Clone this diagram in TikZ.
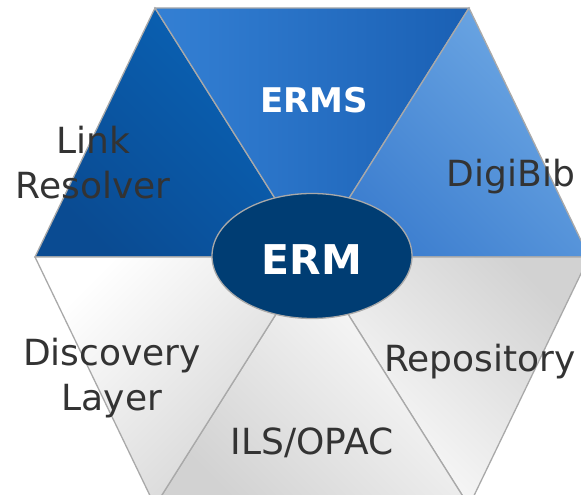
\documentclass[tikz,border=0pt]{standalone}
\usepackage{fontspec}
\setmainfont{DejaVu Sans}
\usetikzlibrary{positioning, calc}
\usetikzlibrary{shapes.geometric}
\definecolor{edgegray}{HTML}{A9A9A9}
\definecolor{wordgray}{HTML}{333333}
\definecolor{ermnavy}{HTML}{003D73}
\definecolor{linkdark}{HTML}{0A4B92}
\definecolor{linklight}{HTML}{0A64B8}
\definecolor{ermsleft}{HTML}{3480D4}
\definecolor{ermsright}{HTML}{1A60B4}
\definecolor{digilight}{HTML}{6EA8E4}
\definecolor{digidark}{HTML}{3A7CCE}
\definecolor{pale}{HTML}{D2D2D2}
\tikzset{
every picture/.style={
line width=1pt
},
slice/.style={draw=edgegray, line width=1.3pt},
word/.style={text=wordgray, font=\fontsize{36}{45}\selectfont, align=center, inner sep=0pt},
title/.style={text=white, font=\bfseries\fontsize{34}{40}\selectfont, inner sep=0pt},
hub/.style={ellipse, draw=edgegray, line width=1.3pt, fill=ermnavy, minimum width=200pt, minimum height=125pt, inner sep=0pt}
}
\newcommand{\hexslice}[3]{
  \shade [slice, #3] (c) -- (#1) -- (#2) -- cycle;
}

\begin{document}
\begin{tikzpicture}[x=1pt, y=1pt]
  \useasboundingbox (0,0) rectangle (581,495);
  \clip (0,0) rectangle (581,495);

  \coordinate (c) at (312,238);
  \foreach \x/\y/\n in {155/487/tl, 469/487/tr, 589/238/r, 469/-11/br, 155/-11/bl, 35/238/l} {
    \coordinate (\n) at (\x,\y);
  }

  \hexslice{l}{tl}{top color=linklight, bottom color=linkdark, shading angle=-45}
  \hexslice{tl}{tr}{left color=ermsleft, right color=ermsright}
  \hexslice{tr}{r}{top color=digilight, bottom color=digidark, shading angle=-45}
  \hexslice{r}{br}{top color=pale, bottom color=white, shading angle=-45}
  \hexslice{br}{bl}{top color=white, bottom color=pale, shading angle=-45}
  \hexslice{bl}{l}{top color=white, bottom color=pale, shading angle=45}

  \node [word] (link) at (93,332) {Link\\Resolver};
  \node [title, anchor=base] (erms) at (314,382) {ERMS};
  \node [word, anchor=base] (digibib) at (511,308) {DigiBib};
  \node [word, anchor=base] (repo) at (480,123) {Repository};
  \node [word, anchor=base] (ils) at (312,40) {ILS/OPAC};
  \node [word] (disc) at (112,117) {Discovery\\Layer};

  \node [hub, title, font=\bfseries\fontsize{41}{45}\selectfont, text height=38pt] (erm) at (312,239) {ERM};

\end{tikzpicture}
\end{document}
